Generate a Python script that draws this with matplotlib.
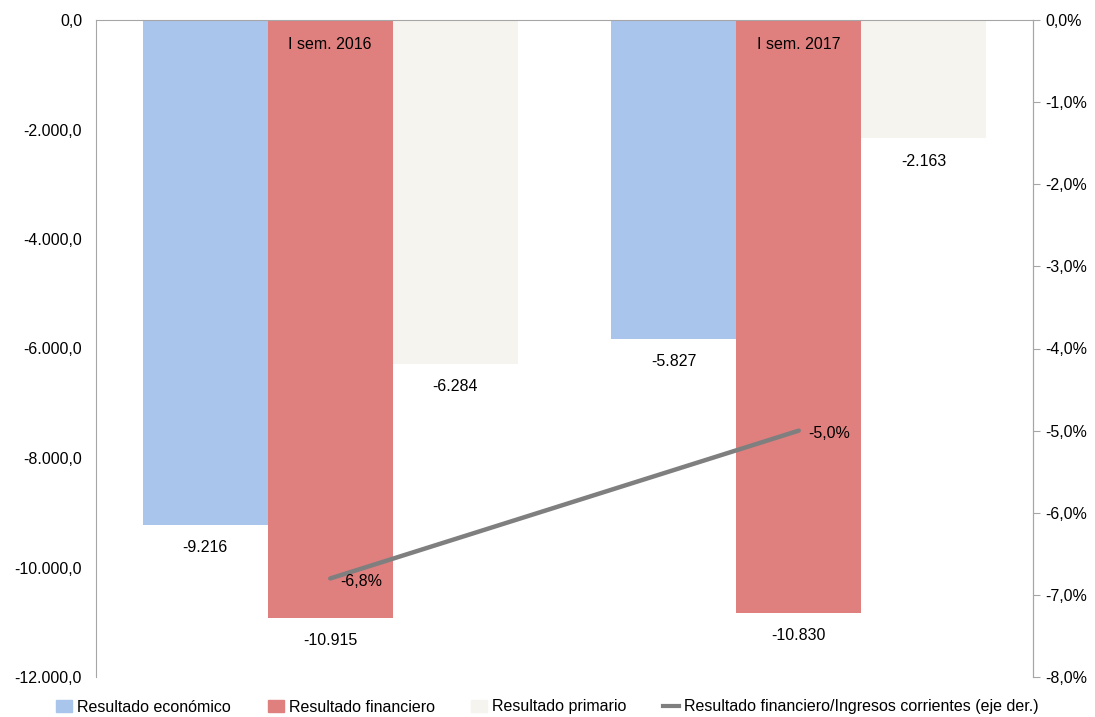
import numpy as np
import matplotlib
matplotlib.use("Agg")
import matplotlib.pyplot as plt
from matplotlib.ticker import FuncFormatter
from matplotlib.patches import Patch
from matplotlib.lines import Line2D

plt.rcParams['font.family'] = ['Liberation Sans', 'DejaVu Sans']

# Datos
periodos = ["I sem. 2016", "I sem. 2017"]
economico = [-9216, -5827]
financiero = [-10915, -10830]
primario = [-6284, -2163]
ratio = [-6.8, -5.0]  # % (eje der.)

c_eco = "#A9C5EB"
c_fin = "#DF7F7E"
c_pri = "#F5F4EE"
c_lin = "#7F7F7F"
gris = "#A6A6A6"


def fmt_num(v, dec=1):
    s = f"{abs(v):,.{dec}f}"
    s = s.replace(",", "X").replace(".", ",").replace("X", ".")
    return ("-" if v < 0 else "") + s


fig = plt.figure(figsize=(10.95, 7.17), dpi=100)
ax = fig.add_axes([96 / 1095, 1 - 677 / 717, (1033 - 96) / 1095, (677 - 20) / 717])

x = np.arange(len(periodos))
w = 0.8 / 3
b1 = ax.bar(x - w, economico, w, color=c_eco)
b2 = ax.bar(x, financiero, w, color=c_fin)
b3 = ax.bar(x + w, primario, w, color=c_pri)

ax.set_xlim(-0.5, 1.5)
ax.set_ylim(-12000, 0)
ax.set_yticks(np.arange(-12000, 1, 2000))
ax.yaxis.set_major_formatter(FuncFormatter(lambda v, p: fmt_num(v, 1)))
ax.set_xticks([])
ax.tick_params(axis='y', length=0, labelsize=11.5, pad=10)

ax.spines["bottom"].set_visible(False)
for s in ["left", "top", "right"]:
    ax.spines[s].set_color(gris)

# Etiquetas de valores
for bars, vals in [(b1, economico), (b2, financiero), (b3, primario)]:
    for rect, v in zip(bars, vals):
        ax.annotate(fmt_num(v, 0), (rect.get_x() + rect.get_width() / 2, v),
                    xytext=(0, -11), textcoords="offset points",
                    ha="center", va="top", fontsize=11.5)

# Etiquetas de periodo
for xi, p in zip(x, periodos):
    ax.text(xi, -450, p, ha="center", va="center", fontsize=11.5)

# Eje derecho
ax2 = ax.twinx()
ax2.plot(x, ratio, color=c_lin, lw=3.2, solid_capstyle="round")
ax2.set_ylim(-8, 0)
ax2.set_yticks(np.arange(-8, 0.1, 1))
ax2.yaxis.set_major_formatter(FuncFormatter(lambda v, p: fmt_num(v, 1) + "%"))
ax2.tick_params(axis='y', length=5, color=gris, labelsize=11.5, pad=4)
for s in ["bottom", "top", "left"]:
    ax2.spines[s].set_visible(False)
ax2.spines["right"].set_color(gris)
for xi, r in zip(x, ratio):
    ax2.annotate(fmt_num(r, 1) + "%", (xi, r), xytext=(7, -2),
                 textcoords="offset points", ha="left", va="center", fontsize=11.5)

handles = [Patch(color=c_eco), Patch(color=c_fin), Patch(color=c_pri),
           Line2D([0], [0], color=c_lin, lw=3)]
labels = ["Resultado económico", "Resultado financiero", "Resultado primario",
          "Resultado financiero/Ingresos corrientes (eje der.)"]
fig.legend(handles, labels, loc="center", bbox_to_anchor=(0.5, 1 - 707 / 717),
           ncol=4, frameon=False, fontsize=11.5, handlelength=1.0,
           handletextpad=0.3, columnspacing=2.3, handleheight=0.8)

fig.savefig("out.png", dpi=100)
